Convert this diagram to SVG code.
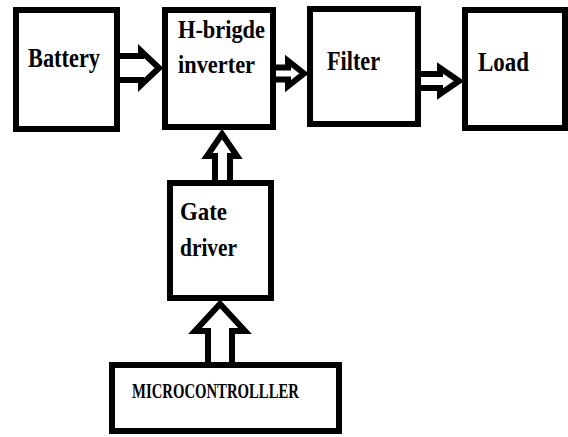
<svg xmlns="http://www.w3.org/2000/svg" width="568" height="437" viewBox="0 0 568 437">
<style>
.box{fill:#fff;stroke:#000;stroke-width:6}
.arr{fill:#fff;stroke:#000;stroke-width:6;stroke-linejoin:miter;stroke-miterlimit:4}
.lbl{font-family:"Liberation Serif","Times New Roman",serif;font-weight:bold;font-size:26px;fill:#000}
.big{font-size:28px}
.small{font-size:20px}
</style>
<rect width="568" height="437" fill="#fff"/>
<g id="battery"><rect class="box" x="16" y="10" width="101" height="119"/><text class="lbl big" x="28" y="67" textLength="72" lengthAdjust="spacingAndGlyphs">Battery</text></g>
<g id="hbridge"><rect class="box" x="165" y="10" width="108" height="117"/><text class="lbl" x="178" y="38" textLength="87" lengthAdjust="spacingAndGlyphs">H-brigde</text><text class="lbl" x="178" y="73" textLength="77" lengthAdjust="spacingAndGlyphs">inverter</text></g>
<g id="filter"><rect class="box" x="310" y="9" width="108" height="115"/><text class="lbl big" x="327" y="70" textLength="53" lengthAdjust="spacingAndGlyphs">Filter</text></g>
<g id="load"><rect class="box" x="465" y="10" width="100" height="118"/><text class="lbl big" x="478" y="71" textLength="51" lengthAdjust="spacingAndGlyphs">Load</text></g>
<g id="gatedriver"><rect class="box" x="170" y="183" width="101" height="115"/><text class="lbl" x="180" y="220" textLength="47" lengthAdjust="spacingAndGlyphs">Gate</text><text class="lbl" x="180" y="256" textLength="57" lengthAdjust="spacingAndGlyphs">driver</text></g>
<g id="microcontroller"><rect class="box" x="112" y="365" width="227" height="66"/><text class="lbl small" x="132" y="398" textLength="167" lengthAdjust="spacingAndGlyphs">MICROCONTROLLLER</text></g>
<g id="connectors">
<path class="arr" d="M120,56 H141 V51 L159,68 L141,85 V80 H120"/>
<path class="arr" d="M276,67.5 H288 V61 L304,73.5 L288,86 V79.5 H276"/>
<path class="arr" d="M421,74 H440 V68 L459,81 L440,94 V88 H421"/>
<path class="arr" d="M215,180 V156 H207 L222,134 L237,156 H230 V180"/>
<path class="arr" d="M208,362 V331 H195 L220,304 L245,331 H232 V362"/>
</g>
</svg>
